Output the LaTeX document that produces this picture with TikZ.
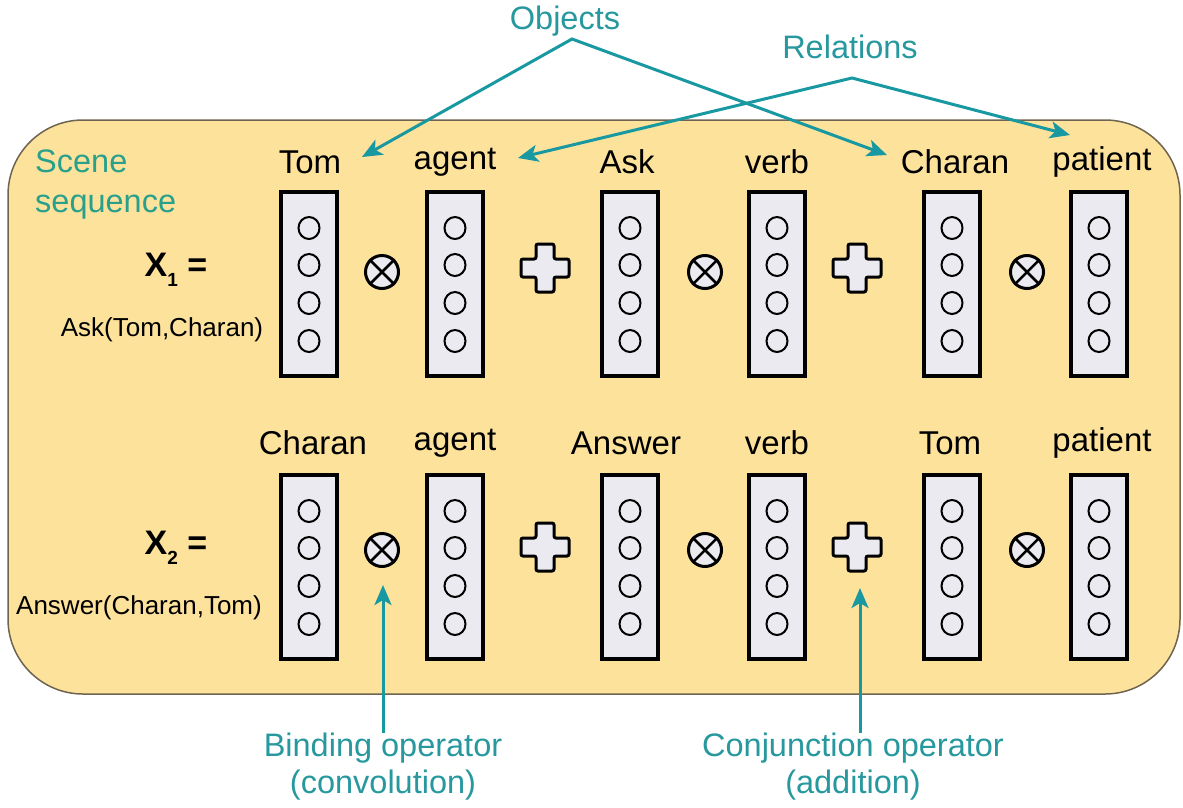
\documentclass[tikz,border=0pt]{standalone}
\usepackage{fontspec}
\setmainfont{Liberation Sans}
\usetikzlibrary{arrows.meta}
\definecolor{scenebg}{RGB}{253,226,156}
\definecolor{scenerim}{RGB}{110,100,80}
\definecolor{vecfill}{RGB}{234,234,240}
\definecolor{tealline}{RGB}{24,152,160}
\definecolor{tealtext}{RGB}{38,152,158}
\definecolor{scenetext}{RGB}{40,160,140}
\tikzset{
  scenepanel/.style={draw=scenerim, line width=1.5pt, fill=scenebg, rounded corners=75pt},
  vecbox/.style={draw=black, line width=4pt, fill=vecfill, minimum width=56pt,
    minimum height=184pt, inner sep=0pt},
  unit/.style={draw=black, line width=2pt},
  bindop/.style={circle, draw=black, line width=3pt, fill=vecfill, minimum size=33pt, inner sep=0pt},
  conjop/.style={draw=black, line width=3pt, fill=vecfill, rounded corners=2pt},
  role/.style={font=\fontsize{33}{38}\selectfont, text=black, inner sep=0pt},
  pointer/.style={draw=tealline, line width=3pt,
    arrows={Stealth[length=20pt,width=17pt,inset=5pt]-Stealth[length=20pt,width=17pt,inset=5pt]}},
  upptr/.style={draw=tealline, line width=3pt, -{Stealth[length=20pt,width=17pt,inset=5pt]}},
  annot/.style={font=\fontsize{32.5}{37}\selectfont, text=tealtext, align=center, inner sep=0pt},
  formula/.style={font=\fontsize{34}{38}\selectfont\bfseries, inner sep=0pt},
  predicate/.style={font=\fontsize{26}{30}\selectfont, inner sep=0pt},
}
\begin{document}
\begin{tikzpicture}[x=1pt, y=-1pt]
\useasboundingbox (0,0) rectangle (1183,807);

% scene panel
\draw[scenepanel] (8,120) rectangle (1180,694);
\node[anchor=north west, annot, align=left, text=scenetext,
      font=\fontsize{32.5}{40}\selectfont] (scene) at (35,150) {Scene\\sequence};

% vectors: two rows of six
\foreach \r/\yc in {1/284, 2/567} {
  \foreach \c/\xc in {1/309, 2/455, 3/630, 4/777, 5/952, 6/1099} {
    \node[vecbox] (v\r\c) at (\xc,\yc) {};
    \foreach \d in {-56,-19,19,57}
      \draw[unit] (\xc,\yc+\d) ellipse (10.5pt and 11pt);
  }
}

% binding (circled cross) and conjunction (plus) operators
\foreach \r/\yo/\yp in {1/272/268, 2/550/547} {
  \foreach \k/\xo in {1/382, 2/705, 3/1027} {
    \node[bindop] (b\r\k) at (\xo,\yo) {};
    \draw[line width=2.5pt] (b\r\k.north west) -- (b\r\k.south east)
                            (b\r\k.north east) -- (b\r\k.south west);
  }
  \foreach \k/\xp in {1/545, 2/857} {
    \coordinate (c\r\k) at (\xp,\yp);
    \draw[conjop] (c\r\k) ++(-9,-24) -- ++(18,0) -- ++(0,15) -- ++(15,0) -- ++(0,18)
      -- ++(-15,0) -- ++(0,15) -- ++(-18,0) -- ++(0,-15) -- ++(-15,0) -- ++(0,-18)
      -- ++(15,0) -- cycle;
  }
}

% role labels
\node[role] (l11) at (310,162) {Tom};
\node[role] (l12) at (455,162) {agent};
\node[role] (l13) at (627,162) {Ask};
\node[role] (l14) at (777,162) {verb};
\node[role] (l15) at (955,162) {Charan};
\node[role] (l16) at (1102,162) {patient};
\node[role] (l21) at (313,443) {Charan};
\node[role] (l22) at (455,443) {agent};
\node[role] (l23) at (626,443) {Answer};
\node[role] (l24) at (777,443) {verb};
\node[role] (l25) at (950,443) {Tom};
\node[role] (l26) at (1102,443) {patient};

% scene formulas
\node[formula] (x1) at (176,270) {X\raisebox{-10pt}{\fontsize{19}{19}\selectfont 1}\ =};
\node[predicate] (p1) at (162,330) {Ask(Tom,Charan)};
\node[formula] (x2) at (176,548) {X\raisebox{-10pt}{\fontsize{19}{19}\selectfont 2}\ =};
\node[predicate] (p2) at (139,608) {Answer(Charan,Tom)};

% top annotations
\node[annot] (objects) at (565,21) {Objects};
\node[annot] (relations) at (850,47) {Relations};
\coordinate (objapex) at (572,39);
\coordinate (relapex) at (852,78);
\coordinate (tomtip) at (362,157);
\coordinate (agenttip) at (518,158);
\coordinate (charantip) at (887,155);
\coordinate (patienttip) at (1070,135);
\draw[pointer] (tomtip) -- (objapex) -- (charantip);
\draw[pointer] (agenttip) -- (relapex) -- (patienttip);

% bottom annotations
\node[annot] (binding) at (383,767) {Binding operator\\(convolution)};
\node[annot] (conj) at (853,767) {Conjunction operator\\(addition)};
\coordinate (bindtip) at (383,585);
\coordinate (conjtip) at (860,588);
\draw[upptr] (binding.north -| bindtip) -- (bindtip);
\draw[upptr] (conj.north -| conjtip) -- (conjtip);
\end{tikzpicture}
\end{document}
